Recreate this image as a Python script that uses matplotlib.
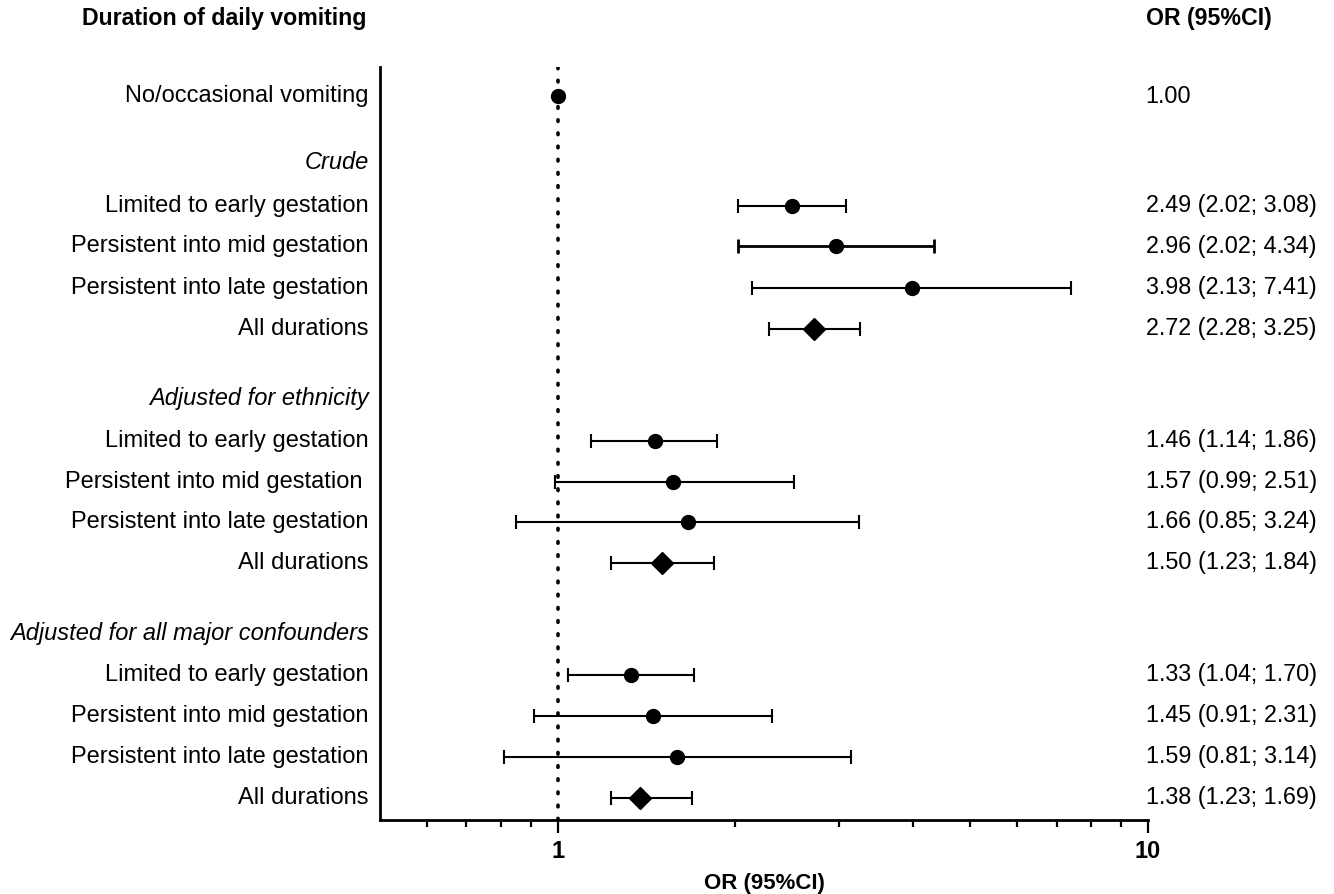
import numpy as np
import matplotlib.pyplot as plt
from matplotlib.ticker import NullFormatter, FixedLocator

plt.rcParams['font.family'] = ['Liberation Sans', 'DejaVu Sans']

# Rows of the forest plot; headers have no estimate
labels = [
    "No/occasional vomiting",
    "Crude",
    "Limited to early gestation",
    "Persistent into mid gestation",
    "Persistent into late gestation",
    "All durations",
    "Adjusted for ethnicity",
    "Limited to early gestation",
    "Persistent into mid gestation ",
    "Persistent into late gestation",
    "All durations",
    "Adjusted for all major confounders",
    "Limited to early gestation",
    "Persistent into mid gestation",
    "Persistent into late gestation",
    "All durations",
]
is_header = [False, True, False, False, False, False, True, False, False, False, False,
             True, False, False, False, False]
odds = [1.00, None, 2.49, 2.96, 3.98, 2.72, None, 1.46, 1.57, 1.66, 1.50, None, 1.33, 1.45, 1.59, 1.38]
lower = [None, None, 2.02, 2.02, 2.13, 2.28, None, 1.14, 0.99, 0.85, 1.23, None, 1.04, 0.91, 0.81, 1.23]
upper = [None, None, 3.08, 4.34, 7.41, 3.25, None, 1.86, 2.51, 3.24, 1.84, None, 1.70, 2.31, 3.14, 1.69]
is_pooled = [False, False, False, False, False, True, False, False, False, False, True,
             False, False, False, False, True]

# vertical slot heights (row spacing) - headers get extra space above
gaps = [0, 1.63, 1.05, 0.98, 1.02, 1.0, 1.69, 1.04, 1.0, 0.98, 1.0, 1.73, 1.0, 1.0, 1.0, 1.0]
ypos = np.cumsum(gaps)

FS = 17

fig = plt.figure(figsize=(13.34, 8.94), dpi=100)
ax = fig.add_axes([0.2849, 0.0828, 0.8606 - 0.2849, 0.925 - 0.0828])

ax.set_xscale('log')
ax.set_xlim(0.5, 10)
ax.set_ylim(17.66, -0.707)

# reference line at OR = 1
ax.axvline(1, color='black', linewidth=2.6, linestyle=(0, (0.45, 3.2)), dash_capstyle='round', zorder=1)

for i in range(len(labels)):
    y = ypos[i]
    ax.text(-0.0145, y, labels[i], transform=ax.get_yaxis_transform(), ha='right', va='center',
            fontsize=FS, style='italic' if is_header[i] else 'normal')
    if is_header[i]:
        continue
    if lower[i] is None:
        ax.plot(odds[i], y, 'o', color='black', markersize=10, zorder=3)
        txt = f"{odds[i]:.2f}"
    else:
        lw = 2.0 if i == 3 else 1.5
        ax.errorbar(odds[i], y, xerr=[[odds[i] - lower[i]], [upper[i] - odds[i]]], fmt='none',
                    ecolor='black', elinewidth=lw, capsize=5, capthick=lw, zorder=2)
        if is_pooled[i]:
            ax.plot(odds[i], y, 'D', color='black', markersize=11, zorder=3)
        else:
            ax.plot(odds[i], y, 'o', color='black', markersize=10, zorder=3)
        txt = f"{odds[i]:.2f} ({lower[i]:.2f}; {upper[i]:.2f})"
    ax.text(0.997, y, txt, transform=ax.get_yaxis_transform(), ha='left', va='center', fontsize=16.8)

# column headers
fig.text(367 / 1334, 1 - 19 / 894, "Duration of daily vomiting", ha='right', va='center',
         fontsize=16.7, fontweight='bold')
fig.text(1146 / 1334, 1 - 19 / 894, "OR (95%CI)", ha='left', va='center',
         fontsize=16.7, fontweight='bold')

# axes styling
for s in ['top', 'right']:
    ax.spines[s].set_visible(False)
ax.spines['left'].set_linewidth(2)
ax.spines['bottom'].set_linewidth(2)
ax.set_yticks([])
ax.xaxis.set_major_locator(FixedLocator([1, 10]))
ax.set_xticklabels(['1', '10'], fontweight='bold', fontsize=17)
ax.xaxis.set_minor_locator(FixedLocator([0.6, 0.7, 0.8, 0.9, 2, 3, 4, 5, 6, 7, 8, 9]))
ax.xaxis.set_minor_formatter(NullFormatter())
ax.tick_params(axis='x', which='major', length=9.5, width=1.6, pad=5)
ax.tick_params(axis='x', which='minor', length=5, width=1.6)
ax.set_xlabel("OR (95%CI)", fontweight='bold', fontsize=16, labelpad=7)

fig.savefig('out.png', dpi=100)
